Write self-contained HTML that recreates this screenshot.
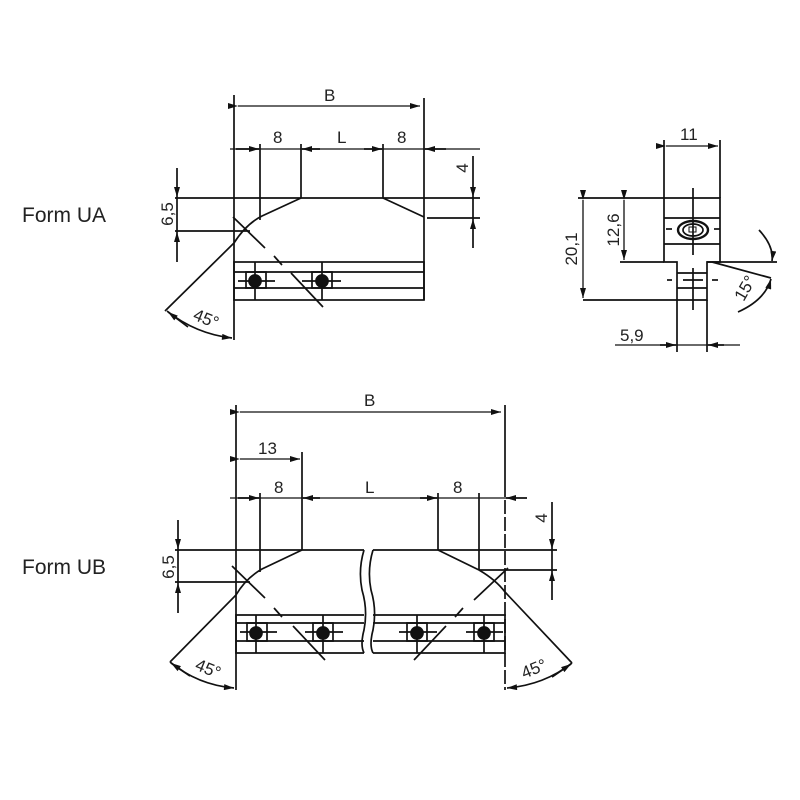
<!DOCTYPE html>
<html><head><meta charset="utf-8"><style>
body{margin:0;background:#fff}
svg{display:block}
text{font-family:"Liberation Sans","DejaVu Sans",sans-serif;fill:#222}
</style></head><body>
<svg width="800" height="800" viewBox="0 0 800 800" xmlns="http://www.w3.org/2000/svg">
<defs>
<marker id="a" viewBox="0 0 10 6" refX="10" refY="3" markerWidth="14" markerHeight="6" markerUnits="userSpaceOnUse" orient="auto"><path d="M0,0L10,3L0,6z" fill="#111"/></marker>
</defs>
<g stroke="#111" stroke-width="1.7" fill="none">
<!-- ===== FORM UA ===== -->
<line x1="234" y1="95" x2="234" y2="340"/>
<line x1="424" y1="98" x2="424" y2="300"/>
<line x1="238" y1="106" x2="420" y2="106" marker-start="url(#a)" marker-end="url(#a)" stroke-width="1.3"/>
<line x1="230" y1="149" x2="480" y2="149" stroke-width="1.3"/>
<line x1="236" y1="149" x2="259" y2="149" marker-end="url(#a)"/>
<line x1="320" y1="149" x2="302" y2="149" marker-end="url(#a)"/>
<line x1="364" y1="149" x2="382" y2="149" marker-end="url(#a)"/>
<line x1="446" y1="149" x2="425" y2="149" marker-end="url(#a)"/>
<line x1="260" y1="144" x2="260" y2="220"/>
<line x1="301" y1="144" x2="301" y2="198"/>
<line x1="383" y1="144" x2="383" y2="198"/>
<line x1="175" y1="198" x2="480" y2="198"/>
<path d="M301,198 L262,216 Q246,224 234,243 L165,311"/>
<path d="M383,198 L424,217"/>
<line x1="427" y1="218" x2="480" y2="218"/>
<line x1="175" y1="231" x2="250" y2="231"/>
<line x1="177" y1="168" x2="177" y2="197" marker-end="url(#a)"/>
<line x1="177" y1="262" x2="177" y2="232" marker-end="url(#a)"/>
<line x1="177" y1="197" x2="177" y2="232"/>
<line x1="473" y1="156" x2="473" y2="197" marker-end="url(#a)"/>
<line x1="473" y1="248" x2="473" y2="219" marker-end="url(#a)"/>
<line x1="473" y1="197" x2="473" y2="219"/>
<rect x="234" y="262" width="190" height="38"/>
<line x1="234" y1="272" x2="424" y2="272"/>
<line x1="234" y1="288" x2="424" y2="288"/>
<line x1="255" y1="262" x2="255" y2="300"/>
<line x1="322" y1="262" x2="322" y2="300"/>
<rect x="246" y="272" width="20" height="16"/><rect x="312" y="272" width="20" height="16"/>
<line x1="238" y1="281" x2="275" y2="281"/><line x1="302" y1="281" x2="341" y2="281"/>
<circle cx="255" cy="281" r="6" fill="#111"/><circle cx="322" cy="281" r="6" fill="#111"/>
<line x1="233" y1="217" x2="265" y2="248"/>
<line x1="274" y1="256" x2="282" y2="265"/>
<line x1="291" y1="273" x2="323" y2="307"/>
<path d="M167,311 Q196,334 232,338" marker-end="url(#a)"/>
<line x1="188" y1="327" x2="168" y2="312" marker-end="url(#a)"/>
<!-- ===== SIDE VIEW ===== -->
<line x1="664" y1="140" x2="664" y2="198"/>
<line x1="720" y1="140" x2="720" y2="198"/>
<line x1="666" y1="146" x2="718" y2="146" marker-start="url(#a)" marker-end="url(#a)" stroke-width="1.3"/>
<path d="M664,198 H720 V262 H712 L707,262 V300 H677 V262 L670,262 H664 Z"/>
<line x1="664" y1="218" x2="720" y2="218"/>
<line x1="664" y1="244" x2="720" y2="244"/>
<line x1="677" y1="273" x2="707" y2="273"/>
<line x1="677" y1="288" x2="707" y2="288"/>
<line x1="693" y1="188" x2="693" y2="255"/>
<line x1="693" y1="268" x2="693" y2="310"/>
<line x1="666" y1="229" x2="672" y2="229"/><line x1="714" y1="229" x2="720" y2="229"/>
<line x1="667" y1="280" x2="672" y2="280"/><line x1="712" y1="280" x2="718" y2="280"/>
<ellipse cx="693" cy="230" rx="15" ry="9" stroke-width="2.4"/>
<ellipse cx="693" cy="230" rx="10" ry="6"/>
<rect x="689" y="227" width="7" height="5" stroke-width="1"/>
<line x1="683" y1="280" x2="703" y2="280"/>
<line x1="578" y1="198" x2="664" y2="198"/>
<line x1="583" y1="300" x2="677" y2="300"/>
<line x1="620" y1="262" x2="664" y2="262"/>
<line x1="583" y1="200" x2="583" y2="298" marker-start="url(#a)" marker-end="url(#a)" stroke-width="1.3"/>
<line x1="624" y1="200" x2="624" y2="260" marker-start="url(#a)" marker-end="url(#a)" stroke-width="1.3"/>
<line x1="707" y1="262" x2="777" y2="262"/>
<line x1="712" y1="262" x2="771" y2="278"/>
<path d="M759,230 Q774,246 772,261" marker-end="url(#a)"/>
<path d="M738,312 Q765,300 771,279" marker-end="url(#a)"/>
<line x1="677" y1="300" x2="677" y2="352"/>
<line x1="707" y1="300" x2="707" y2="352"/>
<line x1="615" y1="345" x2="740" y2="345" stroke-width="1.3"/>
<line x1="660" y1="345" x2="676" y2="345" marker-end="url(#a)"/>
<line x1="724" y1="345" x2="708" y2="345" marker-end="url(#a)"/>
<!-- ===== FORM UB ===== -->
<line x1="236" y1="405" x2="236" y2="690"/>
<line x1="505" y1="405" x2="505" y2="497"/>
<line x1="505" y1="500" x2="505" y2="690" stroke-dasharray="14,3"/>
<line x1="240" y1="412" x2="501" y2="412" marker-start="url(#a)" marker-end="url(#a)" stroke-width="1.3"/>
<line x1="302" y1="452" x2="302" y2="550"/>
<line x1="240" y1="459" x2="300" y2="459" marker-start="url(#a)" marker-end="url(#a)" stroke-width="1.3"/>
<line x1="230" y1="498" x2="510" y2="498" stroke-width="1.3"/>
<line x1="238" y1="498" x2="259" y2="498" marker-end="url(#a)"/>
<line x1="320" y1="498" x2="303" y2="498" marker-end="url(#a)"/>
<line x1="420" y1="498" x2="437" y2="498" marker-end="url(#a)"/>
<line x1="527" y1="498" x2="506" y2="498" marker-end="url(#a)"/>
<line x1="260" y1="493" x2="260" y2="572"/>
<line x1="438" y1="493" x2="438" y2="550"/>
<line x1="479" y1="493" x2="479" y2="570"/>
<line x1="175" y1="550" x2="364" y2="550"/>
<line x1="373" y1="550" x2="557" y2="550"/>
<path d="M364,550 Q358,570 362,590 Q368,610 364,630 Q360,645 364,653"/>
<path d="M373,550 Q367,570 371,590 Q377,610 373,630 Q369,645 373,653"/>
<path d="M302,550 L262,569 Q246,578 236,595 L170,662"/>
<path d="M438,550 L479,570 Q496,580 505,592 L572,663"/>
<line x1="175" y1="582" x2="250" y2="582"/>
<line x1="479" y1="570" x2="557" y2="570"/>
<line x1="178" y1="520" x2="178" y2="549" marker-end="url(#a)"/>
<line x1="178" y1="613" x2="178" y2="583" marker-end="url(#a)"/>
<line x1="178" y1="549" x2="178" y2="583"/>
<line x1="552" y1="502" x2="552" y2="549" marker-end="url(#a)"/>
<line x1="552" y1="600" x2="552" y2="571" marker-end="url(#a)"/>
<line x1="552" y1="549" x2="552" y2="571"/>
<path d="M364,615 H236 V653 H364 M236,623 H364 M236,641 H364"/>
<path d="M373,615 H505 V653 H373 M373,623 H505 M373,641 H505"/>
<line x1="256" y1="615" x2="256" y2="653"/><line x1="323" y1="615" x2="323" y2="653"/>
<line x1="417" y1="615" x2="417" y2="653"/><line x1="484" y1="615" x2="484" y2="653"/>
<rect x="247" y="623" width="20" height="18"/><rect x="313" y="623" width="20" height="18"/>
<rect x="407" y="623" width="20" height="18"/><rect x="474" y="623" width="20" height="18"/>
<line x1="240" y1="632" x2="277" y2="632"/><line x1="305" y1="632" x2="343" y2="632"/>
<line x1="399" y1="632" x2="437" y2="632"/><line x1="466" y1="632" x2="503" y2="632"/>
<circle cx="256" cy="633" r="6" fill="#111"/><circle cx="323" cy="633" r="6" fill="#111"/>
<circle cx="417" cy="633" r="6" fill="#111"/><circle cx="484" cy="633" r="6" fill="#111"/>
<line x1="232" y1="566" x2="265" y2="598"/>
<line x1="274" y1="608" x2="282" y2="617"/>
<line x1="293" y1="626" x2="325" y2="660"/>
<line x1="508" y1="568" x2="474" y2="600"/>
<line x1="463" y1="608" x2="455" y2="617"/>
<line x1="446" y1="626" x2="414" y2="660"/>
<path d="M170,662 Q198,685 234,688" marker-end="url(#a)"/>
<line x1="190" y1="676" x2="171" y2="663" marker-end="url(#a)"/>
<path d="M572,663 Q544,685 507,688" marker-end="url(#a)"/>
<line x1="552" y1="677" x2="571" y2="664" marker-end="url(#a)"/>
</g>
<g font-size="17">
<text x="22" y="222" font-size="21">Form UA</text>
<text x="22" y="574" font-size="21">Form UB</text>
<text x="324" y="101">B</text>
<text x="273" y="143">8</text>
<text x="337" y="143">L</text>
<text x="397" y="143">8</text>
<text transform="translate(173,214) rotate(-90)" text-anchor="middle">6,5</text>
<text transform="translate(468,168) rotate(-90)" text-anchor="middle">4</text>
<text transform="translate(204,324) rotate(22)" text-anchor="middle">45°</text>
<text x="680" y="140">11</text>
<text transform="translate(577,249) rotate(-90)" text-anchor="middle">20,1</text>
<text transform="translate(619,230) rotate(-90)" text-anchor="middle">12,6</text>
<text transform="translate(750,291) rotate(-60)" text-anchor="middle">15°</text>
<text x="620" y="341">5,9</text>
<text x="364" y="406">B</text>
<text x="258" y="454">13</text>
<text x="274" y="493">8</text>
<text x="365" y="493">L</text>
<text x="453" y="493">8</text>
<text transform="translate(174,567) rotate(-90)" text-anchor="middle">6,5</text>
<text transform="translate(547,518) rotate(-90)" text-anchor="middle">4</text>
<text transform="translate(206,674) rotate(22)" text-anchor="middle">45°</text>
<text transform="translate(536,674) rotate(-22)" text-anchor="middle">45°</text>
</g>
</svg>
</body></html>
